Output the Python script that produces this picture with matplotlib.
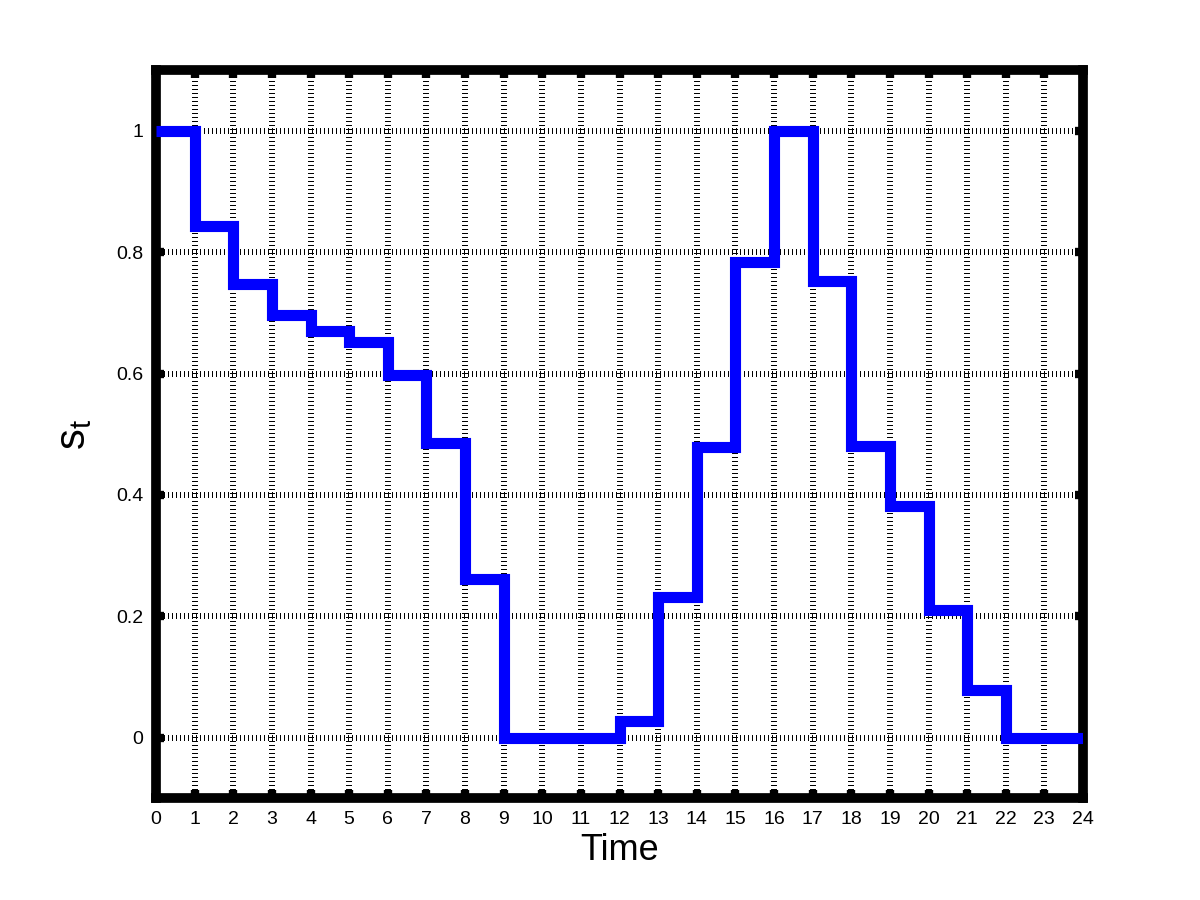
import numpy as np
import matplotlib
matplotlib.use("Agg")
import matplotlib.pyplot as plt

plt.rcParams['font.family'] = ['Liberation Sans', 'DejaVu Sans']
plt.rcParams['mathtext.default'] = 'regular'
plt.rcParams['lines.scale_dashes'] = False

# step values, one per hour interval
time = np.arange(0, 25)
s_t = [1.0, 0.843, 0.748, 0.696, 0.670, 0.652, 0.597, 0.485, 0.262,
       0.0, 0.0, 0.0, 0.028, 0.231, 0.479, 0.784, 1.0, 0.752, 0.480,
       0.382, 0.210, 0.079, 0.0, 0.0]
s_t = s_t + [s_t[-1]]

xticks = list(range(0, 25))
yticks = [0, 0.2, 0.4, 0.6, 0.8, 1.0]
ytick_labels = ['0', '0.2', '0.4', '0.6', '0.8', '1']

fig = plt.figure(figsize=(12, 9), dpi=100)
ax = fig.add_axes([0.13, 0.113, 0.7725, 0.809])

ax.plot(time, s_t, drawstyle='steps-post', color=(0, 0, 1), lw=8,
        solid_joinstyle='miter', solid_capstyle='butt', zorder=3)

ax.set_xlim(0, 24)
ax.set_ylim(-0.1, 1.1)
ax.set_xticks(xticks)
ax.set_yticks(yticks)
ax.set_yticklabels(ytick_labels)

ax.grid(True, color='black', lw=4.3, linestyle=(0, (0.72, 2.16)))
ax.set_axisbelow(True)

for sp in ax.spines.values():
    sp.set_linewidth(7)
ax.tick_params(direction='in', length=6, width=6, top=True, right=True,
               labelsize=14, pad=9)

ax.set_xlabel('Time', fontsize=26, labelpad=4)
ax.set_ylabel('s$_t$', fontsize=30, labelpad=16)

fig.savefig('out.png', dpi=100)
